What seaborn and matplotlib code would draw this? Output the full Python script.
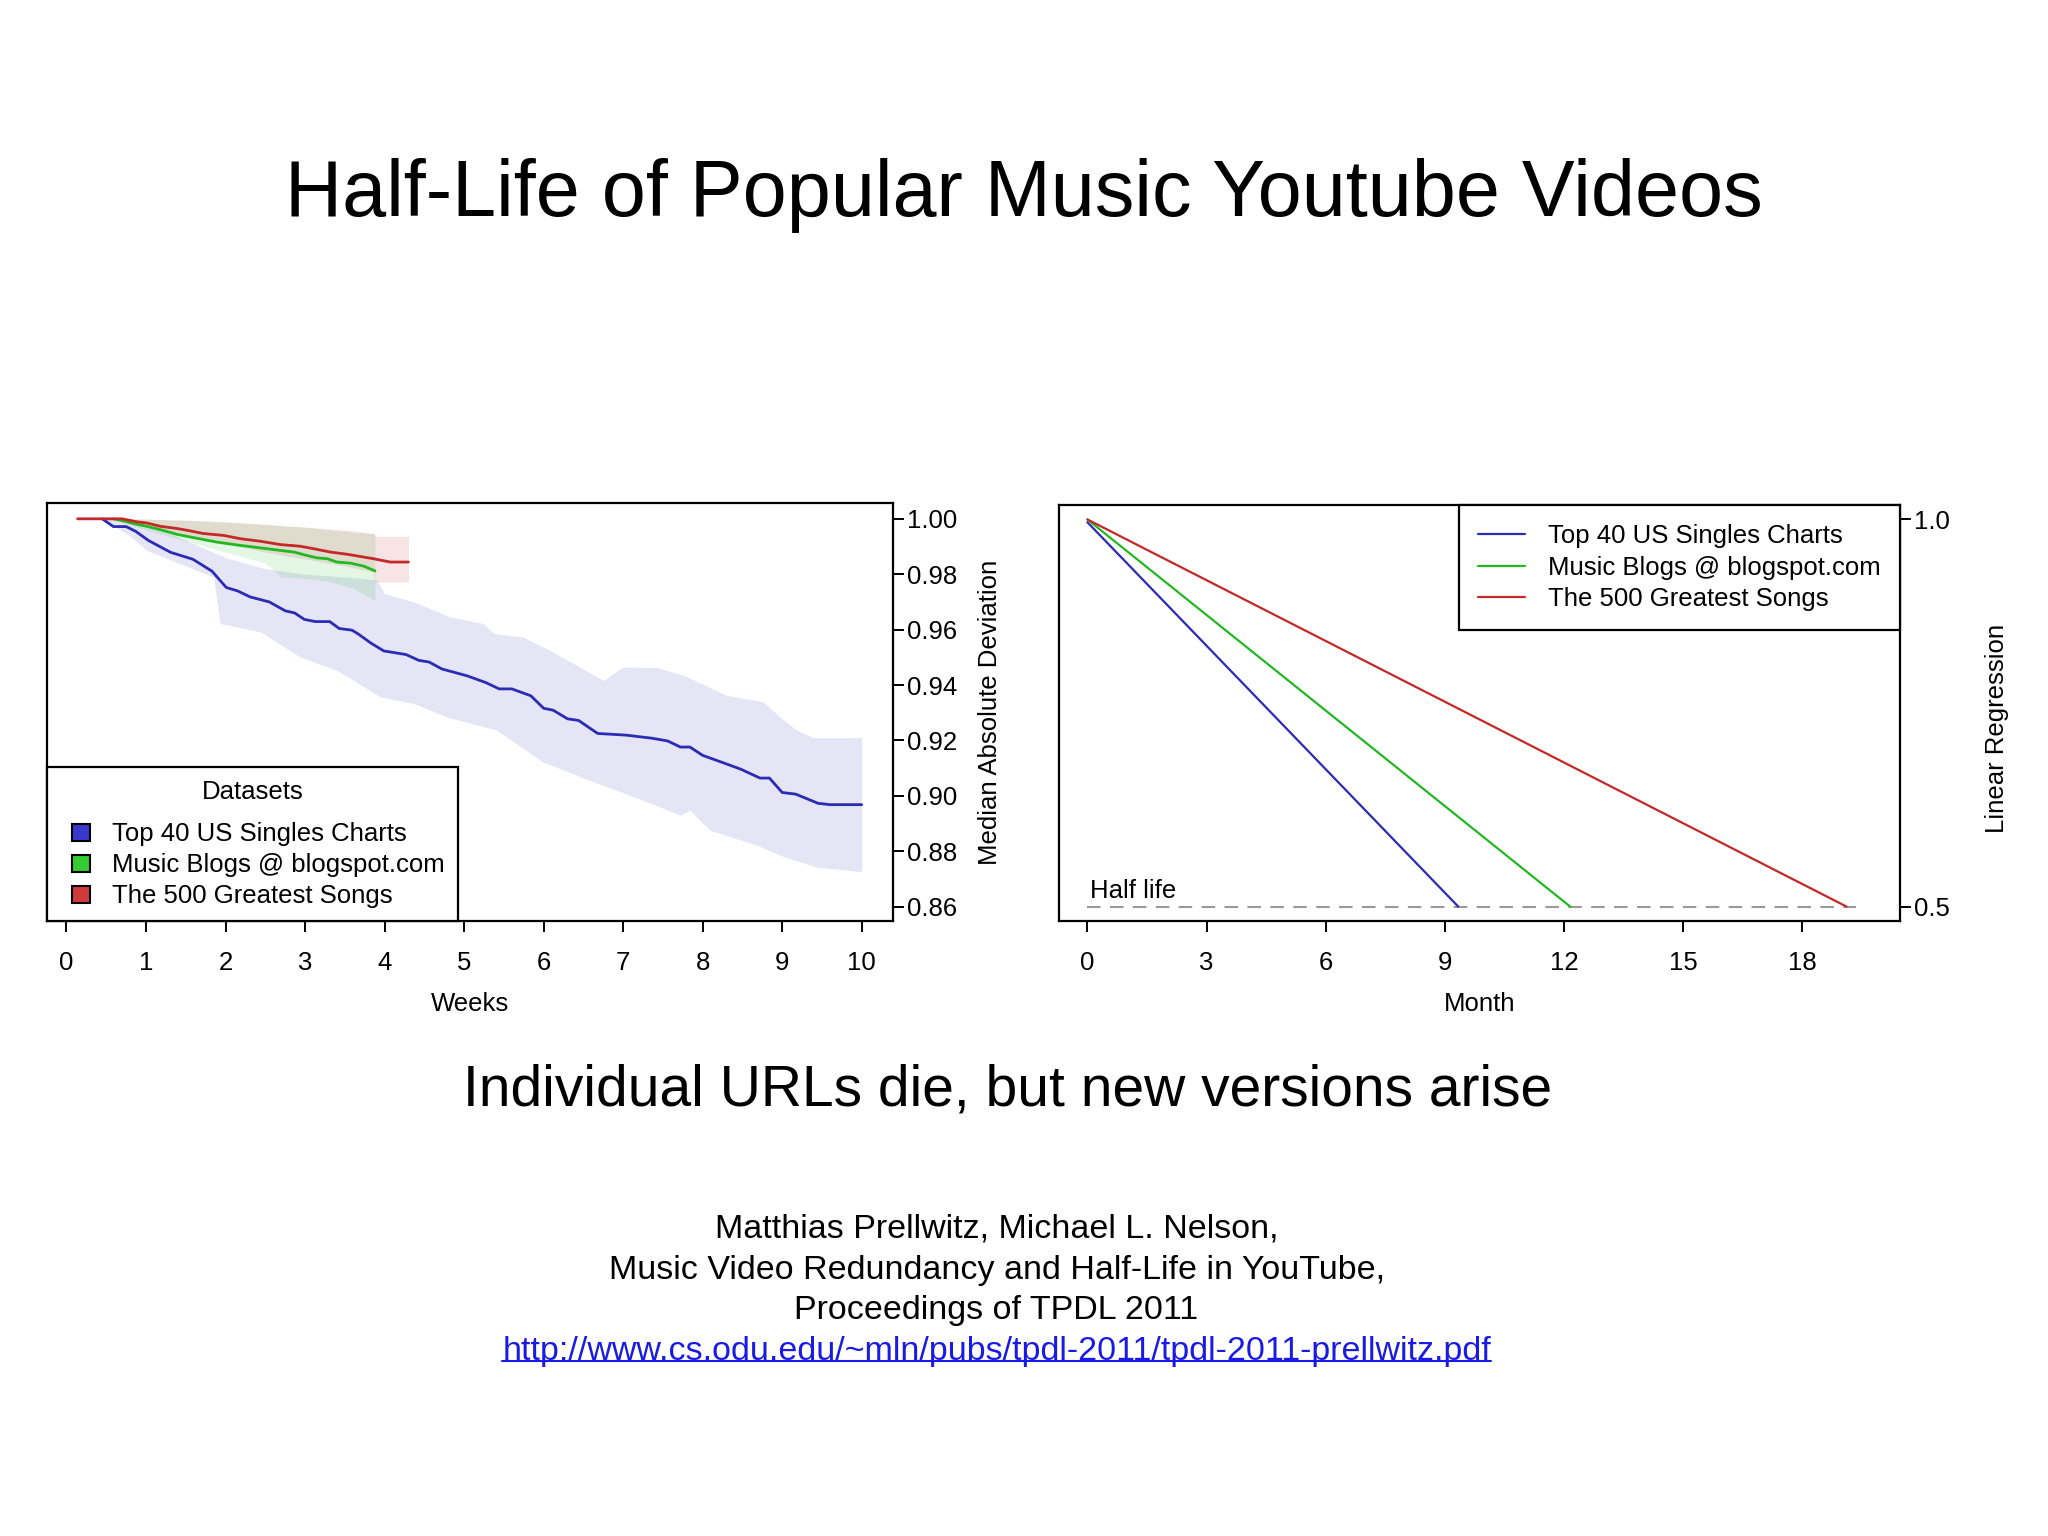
import numpy as np
import pandas as pd
import seaborn as sns
import matplotlib.pyplot as plt
from matplotlib.patches import Patch, Rectangle
from matplotlib.lines import Line2D

sns.set_theme(style="white")
plt.rcParams['font.family'] = ['Liberation Sans', 'DejaVu Sans']
plt.rcParams['text.color'] = 'black'
plt.rcParams['axes.labelcolor'] = 'black'
plt.rcParams['xtick.color'] = 'black'
plt.rcParams['ytick.color'] = 'black'

# --- left panel: median survival per week, with spread band ---
top40_weeks = [0.45, 0.59, 0.75, 0.87, 1.03, 1.31, 1.59, 1.83, 2.01, 2.15, 2.31, 2.55, 2.75, 2.87,
               2.99, 3.13, 3.31, 3.43, 3.59, 3.67, 3.83, 3.99, 4.27, 4.43, 4.56, 4.72, 5.04, 5.28,
               5.44, 5.60, 5.84, 6.00, 6.12, 6.30, 6.44, 6.68, 7.04, 7.36, 7.56, 7.72, 7.84, 8.00,
               8.28, 8.48, 8.72, 8.84, 9.00, 9.17, 9.45, 9.60, 10.0]
top40_mad = [1.0, 0.9972, 0.9972, 0.9955, 0.9922, 0.9879, 0.9854, 0.9811, 0.9752, 0.974, 0.9718,
             0.970, 0.9668, 0.966, 0.9637, 0.9629, 0.9629, 0.9604, 0.9598, 0.9584, 0.9551, 0.9523,
             0.951, 0.9489, 0.9483, 0.9458, 0.9433, 0.9408, 0.9386, 0.9386, 0.9361, 0.9316, 0.9309,
             0.9278, 0.9272, 0.9225, 0.9219, 0.9208, 0.9198, 0.9176, 0.9176, 0.9146, 0.9117, 0.9096,
             0.9064, 0.9064, 0.9012, 0.9006, 0.8973, 0.8968, 0.8968]

top40_hi_weeks = [0.45, 0.8, 1.2, 1.6, 2.0, 2.5, 3.0, 3.5, 3.9, 4.0, 4.37, 4.82, 5.24, 5.37, 5.74,
                  6.08, 6.75, 7.00, 7.42, 7.76, 8.30, 8.76, 8.97, 9.18, 9.39, 10.0]
top40_hi = [1.0, 0.999, 0.996, 0.991, 0.986, 0.982, 0.980, 0.979, 0.978, 0.973, 0.970, 0.9646,
            0.9622, 0.9586, 0.9573, 0.9525, 0.9417, 0.9465, 0.9463, 0.9435, 0.9363, 0.9339,
            0.9285, 0.9237, 0.9210, 0.9210]
top40_lo_weeks = [0.45, 0.79, 1.01, 1.85, 1.93, 2.44, 2.94, 3.40, 3.95, 4.37, 4.78, 5.41, 5.99,
                  6.58, 7.25, 7.72, 7.84, 8.09, 8.68, 9.02, 9.43, 10.0]
top40_lo = [1.0, 0.994, 0.9886, 0.979, 0.9622, 0.9592, 0.9501, 0.9453, 0.9357, 0.9333, 0.9285,
            0.9237, 0.9122, 0.9056, 0.8984, 0.8930, 0.8948, 0.8876, 0.8822, 0.8780, 0.8743, 0.8726]

blogs_weeks = [0.59, 0.72, 0.89, 1.01, 1.18, 1.39, 1.60, 1.89, 2.19, 2.44, 2.69, 2.86, 3.02, 3.15,
               3.28, 3.40, 3.57, 3.74, 3.88]
blogs_mad = [1.0, 0.9992, 0.998, 0.9973, 0.9961, 0.9944, 0.9932, 0.9916, 0.9904, 0.9895, 0.9886,
             0.988, 0.9868, 0.9859, 0.9856, 0.9844, 0.984, 0.9829, 0.9812]
blogs_band_weeks = [0.59, 1.0, 1.5, 2.0, 2.5, 2.7, 3.0, 3.3, 3.6, 3.88]
blogs_hi = [1.0, 1.0, 0.9995, 0.999, 0.998, 0.9975, 0.997, 0.996, 0.9952, 0.9947]
blogs_lo = [1.0, 0.996, 0.992, 0.988, 0.984, 0.979, 0.9785, 0.9775, 0.975, 0.9706]

songs_weeks = [0.14, 0.70, 0.89, 1.01, 1.18, 1.39, 1.51, 1.72, 1.98, 2.19, 2.44, 2.69, 2.94, 3.11,
               3.32, 3.53, 3.86, 4.07, 4.30]
songs_mad = [1.0, 1.0, 0.9989, 0.9985, 0.9973, 0.9965, 0.9959, 0.9947, 0.994, 0.9928, 0.9919,
             0.9907, 0.9901, 0.9892, 0.988, 0.9872, 0.9856, 0.9844, 0.9844]
songs_band_weeks = [0.14, 0.70, 1.5, 2.5, 3.5, 3.86, 3.88, 4.30]
songs_hi = [1.0, 1.0, 0.9995, 0.998, 0.996, 0.9947, 0.9937, 0.9937]
songs_lo = [1.0, 0.9995, 0.994, 0.988, 0.983, 0.9808, 0.9772, 0.9772]

# --- right panel: linear regression to half life (months) ---
labels = ["Top 40 US Singles Charts", "Music Blogs @ blogspot.com", "The 500 Greatest Songs"]
start_value = [0.9964, 1.0, 1.0]
half_life_month = [9.34, 12.16, 19.12]

line_cols = ["#2b2bb3", "#22b822", "#c42828"]
patch_cols = ["#3838cc", "#33cc33", "#d13a3a"]


class SquareRight:
    # R-style legend key: small square sitting at the right end of the handle slot
    def legend_artist(self, legend, orig_handle, fontsize, handlebox):
        x0, y0 = handlebox.xdescent, handlebox.ydescent
        w, h = handlebox.width, handlebox.height
        sq = Rectangle((x0 + w - h, y0), h, h, facecolor=orig_handle.get_facecolor(),
                       edgecolor="black", linewidth=1.5, transform=handlebox.get_transform())
        handlebox.add_artist(sq)
        return sq


fig = plt.figure(figsize=(20.48, 15.36), dpi=100)
ax1 = fig.add_axes([0.0229, 0.4004, 0.413, 0.2721])
ax2 = fig.add_axes([0.517, 0.4004, 0.4106, 0.2708])

fs = 18.5

# bands
bands = [(top40_hi_weeks, top40_hi, top40_lo_weeks, top40_lo, line_cols[0]),
         (blogs_band_weeks, blogs_hi, blogs_band_weeks, blogs_lo, line_cols[1]),
         (songs_band_weeks, songs_hi, songs_band_weeks, songs_lo, line_cols[2])]
for hw, hv, lw, lv, c in bands:
    xs = np.union1d(hw, lw)
    ax1.fill_between(xs, np.interp(xs, hw, hv), np.interp(xs, lw, lv),
                     color=c, alpha=0.12, linewidth=0)

med = pd.concat([
    pd.DataFrame({"week": top40_weeks, "mad": top40_mad, "set": labels[0]}),
    pd.DataFrame({"week": blogs_weeks, "mad": blogs_mad, "set": labels[1]}),
    pd.DataFrame({"week": songs_weeks, "mad": songs_mad, "set": labels[2]}),
])
sns.lineplot(data=med, x="week", y="mad", hue="set", palette=line_cols, ax=ax1,
             linewidth=2.0, legend=False, estimator=None, sort=False)

ax1.set_xlim(-0.246, 10.39)
ax1.set_ylim(0.8548, 1.0057)
ax1.set_xticks(range(0, 11))
yt = [0.86, 0.88, 0.90, 0.92, 0.94, 0.96, 0.98, 1.00]
ax1.set_yticks(yt)
ax1.set_yticklabels([f"{v:.2f}" for v in yt])
ax1.yaxis.tick_right()
ax1.set_xlabel("Weeks", fontsize=fs)
ax1.set_ylabel("Median Absolute Deviation", fontsize=fs)
ax1.yaxis.set_label_position("right")
ax1.yaxis.set_label_coords(1.101, 0.5)
ax1.xaxis.set_label_coords(0.5, -0.17)

handles = [Patch(facecolor=c) for c in patch_cols]
leg1 = ax1.legend(handles, labels, title="Datasets", loc="lower left", bbox_to_anchor=(0, 0),
                  borderaxespad=0, fontsize=fs, title_fontsize=fs, frameon=True, fancybox=False,
                  framealpha=1, edgecolor="black", handlelength=1.17, handleheight=0.66,
                  handletextpad=0.87, labelspacing=0.28, borderpad=0.5,
                  handler_map={Patch: SquareRight()})
leg1.get_frame().set_linewidth(1.6)
leg1._legend_box.sep = 12.8

# right panel
reg = pd.concat([
    pd.DataFrame({"month": [0, h], "value": [s, 0.5], "set": lab})
    for lab, s, h in zip(labels, start_value, half_life_month)
])
ax2.axhline(0.5, xmin=(0 + 0.72) / 21.18, xmax=(19.36 + 0.72) / 21.18, color="#999999",
            linestyle=(0, (6.5, 4.5)), linewidth=1.5)
sns.lineplot(data=reg, x="month", y="value", hue="set", palette=line_cols, ax=ax2,
             linewidth=1.6, estimator=None, sort=False)
ax2.text(0.06, 0.504, "Half life", fontsize=fs, va="bottom", ha="left")
ax2.set_xlim(-0.72, 20.46)
ax2.set_ylim(0.4814, 1.0186)
ax2.set_xticks([0, 3, 6, 9, 12, 15, 18])
ax2.set_yticks([0.5, 1.0])
ax2.yaxis.tick_right()
ax2.set_xlabel("Month", fontsize=fs)
ax2.set_ylabel("Linear Regression", fontsize=fs)
ax2.yaxis.set_label_position("right")
ax2.yaxis.set_label_coords(1.102, 0.462)
ax2.xaxis.set_label_coords(0.5, -0.17)
lh = [Line2D([0], [0], color=c, linewidth=1.6) for c in line_cols]
leg2 = ax2.legend(lh, labels, loc="upper right", bbox_to_anchor=(1, 1), borderaxespad=0,
                  fontsize=fs, frameon=True, fancybox=False, framealpha=1, edgecolor="black",
                  handlelength=1.8, handletextpad=0.9, labelspacing=0.28, borderpad=0.75)
leg2.get_frame().set_linewidth(1.6)

for ax in (ax1, ax2):
    for sp in ax.spines.values():
        sp.set_color("black")
        sp.set_linewidth(1.6)
    ax.tick_params(axis="both", which="both", direction="out", length=7.6, width=1.4,
                   labelsize=fs, colors="black", bottom=True, right=True, left=False)
    ax.tick_params(axis="x", pad=14)
    ax.tick_params(axis="y", pad=3)
    ax.grid(False)

# slide text
fig.text(0.5, 0.8728, "Half-Life of Popular Music Youtube Videos", ha="center", va="center",
         fontsize=57)
fig.text(0.492, 0.2903, "Individual URLs die, but new versions arise", ha="center", va="center",
         fontsize=41)
cite = ["Matthias Prellwitz, Michael L. Nelson,",
        "Music Video Redundancy and Half-Life in YouTube,",
        "Proceedings of TPDL 2011"]
cite_y = [0.1998, 0.1730, 0.1470]
for t, y in zip(cite, cite_y):
    fig.text(0.4866, y, t, ha="center", va="center", fontsize=24.5)
url = fig.text(0.4866, 0.1200, "http://www.cs.odu.edu/~mln/pubs/tpdl-2011/tpdl-2011-prellwitz.pdf",
               ha="center", va="center", fontsize=24.5, color="#1a1ae6")

fig.canvas.draw()
bb = url.get_window_extent().transformed(fig.transFigure.inverted())
fig.add_artist(Line2D([bb.x0, bb.x1], [bb.y0 + 0.004, bb.y0 + 0.004], color="#1a1ae6",
                      linewidth=1.5, transform=fig.transFigure))

fig.savefig("out.png", dpi=100, facecolor="white")
